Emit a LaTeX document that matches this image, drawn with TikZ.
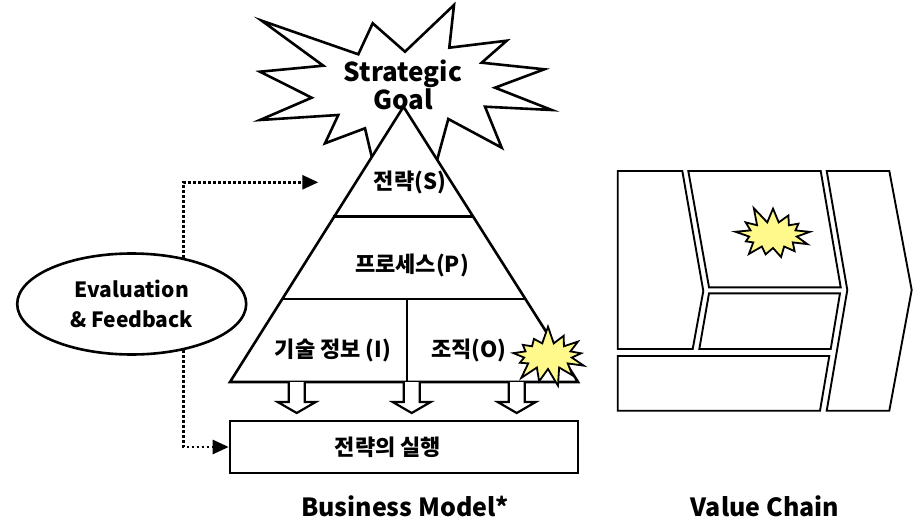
\documentclass[tikz,border=0pt]{standalone}
\usepackage{fontspec}
\setmainfont{Noto Sans CJK KR}
\usetikzlibrary{arrows.meta,shapes.geometric,shapes.symbols}

\begin{document}
\begin{tikzpicture}[
        x=1pt, y=-1pt,
        every node/.style={inner sep=0pt, align=center},
        nhan/.style={font=\bfseries\fontsize{22}{24}\selectfont},
        tieude/.style={font=\bfseries\fontsize{25}{26}\selectfont},
        net/.style={line width=2.6pt, line join=miter},
        chuoi/.style={line width=1.9pt, fill=white},
        phanhoi/.style={line width=2.6pt, dash pattern=on 2.6pt off 2.4pt, -{Triangle[length=16pt,width=14pt]}},
        muiten/.style={line width=2.2pt, fill=white},
        buno/.style={starburst, starburst points=13, starburst point height=18pt, random starburst=7,
            draw, line width=1.8pt, fill=yellow!45, minimum width=84pt, minimum height=62pt}
    ]
        \useasboundingbox (0,0) rectangle (917,521);

        % Vẽ ngôi sao mục tiêu
        \draw[net, fill=white] (261.7,20.7) -- (358.3,54.3) -- (372.7,23.3) -- (405,51.7)
            -- (454,5) -- (449.3,47.7) -- (506.7,40.7) -- (481.7,62.7) -- (544.3,69.3)
            -- (495,87.7) -- (551.7,110) -- (485,106.7) -- (501.7,147.7) -- (448.3,119)
            -- (433,175) -- (405,150) -- (376,175) -- (365,128.3) -- (325,143.3)
            -- (338.3,115) -- (260,120) -- (311.7,97.7) -- (260,71.7) -- (323.3,65.7) -- cycle;

        % Vẽ kim tự tháp
        \coordinate (dinh) at (403.5,106.7);
        \coordinate (traiday) at (230,382);
        \coordinate (phaiday) at (578,382);
        \draw[net, fill=white] (dinh) -- (phaiday) -- (traiday) -- cycle;
        \draw[net] (333,216.5) -- (473,216.5);
        \draw[net] (283,299) -- (524,299);
        \draw[net] (407,299) -- (407,382);

        \node[tieude, font=\bfseries\fontsize{26}{26}\selectfont] (goal) at (403,85) {Strategic\\Goal};
        \node[nhan] (S) at (410,182) {전략(S)};
        \node[nhan] (P) at (412,265) {프로세스(P)};
        \node[nhan] (I) at (333,350) {기술 정보 (I)};
        \node[nhan] (O) at (469,350) {조직(O)};
        \node[buno] (sao1) at (548,356) {};

        % Mũi tên xuống
        \draw[muiten] (288.7,382) -- ++(0,20) -- ++(-11,0) -- ++(19,11) -- ++(19,-11) -- ++(-11,0) -- ++(0,-20);
        \draw[muiten] (403.7,382) -- ++(0,20) -- ++(-11,0) -- ++(19,11) -- ++(19,-11) -- ++(-11,0) -- ++(0,-20);
        \draw[muiten] (508.7,382) -- ++(0,20) -- ++(-11,0) -- ++(19,11) -- ++(19,-11) -- ++(-11,0) -- ++(0,-20);

        \node[nhan, draw, line width=2.6pt, minimum width=348pt, minimum height=52pt] (exec) at (404,447) {};
        \node[nhan] (execlabel) at (388,447) {전략의 실행};

        % Đánh giá và phản hồi
        \node[ellipse, draw, line width=2.6pt, minimum width=229pt, minimum height=101pt,
            font=\bfseries\fontsize{21}{30}\selectfont] (eval) at (131.7,304) {Evaluation\\\& Feedback};
        \coordinate (denS) at (318.3,182.3);
        \draw[phanhoi] (eval.42) |- (denS);
        \draw[phanhoi] (eval.-42) |- (exec.west);

        % Chuỗi giá trị
        \draw[chuoi] (617.7,171) -- (682.3,171) -- (703.3,291) -- (692.7,349) -- (617.7,349) -- cycle;
        \draw[chuoi] (688.3,171) -- (820.7,171) -- (840.7,287.3) -- (709,287.3) -- cycle;
        \draw[chuoi] (709,293.3) -- (840,293.3) -- (830.7,349) -- (699.3,349) -- cycle;
        \draw[chuoi] (617.7,356) -- (829.3,356) -- (820,410.7) -- (617.7,410.7) -- cycle;
        \draw[chuoi] (826.7,171) -- (889.3,171) -- (911.7,290) -- (889.3,410.7) -- (826.7,410.7) -- (847.3,290) -- cycle;
        \node[buno, random starburst=11] (sao2) at (773,235) {};

        % Chú thích
        \node[tieude] (bm) at (405,506) {Business Model*};
        \node[tieude] (vc) at (765,506) {Value Chain};
    \end{tikzpicture}
\end{document}
